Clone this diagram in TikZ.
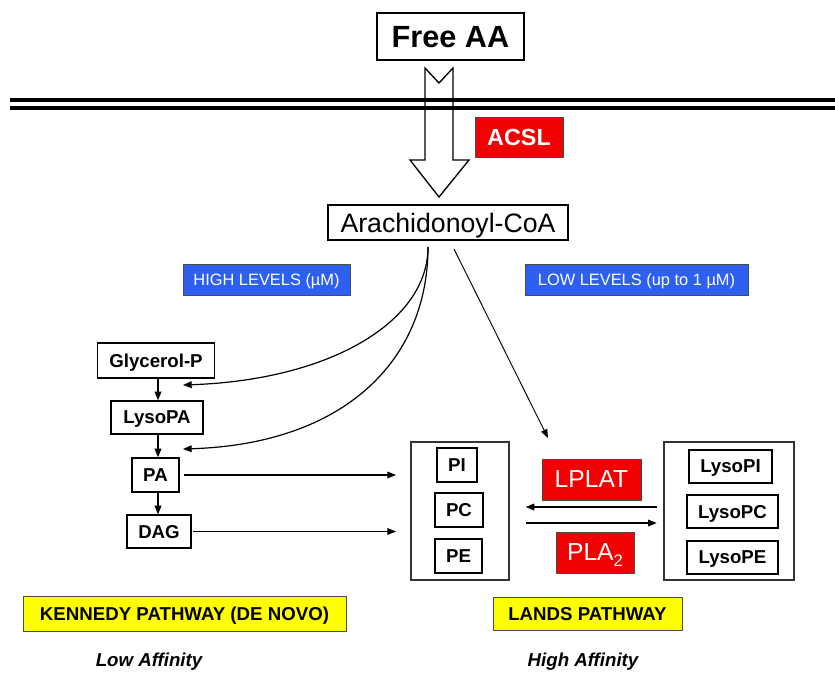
\documentclass[tikz,border=0pt]{standalone}
\usepackage{fontspec}
\setmainfont{Liberation Sans}
\usetikzlibrary{arrows.meta}
\definecolor{redbox}{RGB}{240,0,0}
\definecolor{bluebox}{RGB}{45,95,240}
\definecolor{yellowbox}{RGB}{255,255,0}
\tikzset{
  sz/.style 2 args={minimum width=#1*0.75pt, minimum height=#2*0.75pt, inner sep=0pt,
    text depth=0pt},
  plain/.style={draw=black, line width=0.9pt, fill=white, font=\fontsize{14}{16}\selectfont\bfseries},
  redlab/.style={draw=black!70, line width=0.7pt, fill=redbox, text=white},
  bluelab/.style={draw=black!70, line width=0.7pt, fill=bluebox, text=white, font=\fontsize{12.3}{14}\selectfont},
  yellab/.style={draw=black!70, line width=0.7pt, fill=yellowbox, font=\fontsize{14}{16}\selectfont\bfseries},
  group/.style={draw=black!80, line width=0.9pt},
  conn/.style={line width=0.9pt, -{Triangle[length=6.5pt,width=5pt]}},
  thin/.style={line width=0.7pt, -{Triangle[length=6.5pt,width=5pt]}},
  membrane/.style={line width=2.6pt, black},
  affinity/.style={font=\fontsize{14}{16}\selectfont\bfseries\itshape}
}
\begin{document}
\begin{tikzpicture}[x=0.75pt,y=-0.75pt]
\useasboundingbox (0,0) rectangle (835,672);

% membrane
\draw[membrane] (10,100) -- (835,100);
\draw[membrane] (10,108) -- (835,108);

% hollow transport arrow
\draw[line width=1pt] (425,68) -- (439,83) -- (453,68) -- (453,160) -- (469,160)
  -- (439,197) -- (410,160) -- (425,160) -- cycle;

% top nodes
\node[plain, sz={147}{47}, font=\fontsize{23}{26}\selectfont\bfseries] (freeaa) at (450.5,36.5) {Free AA};
\node[redlab, sz={88}{40}, font=\fontsize{17.5}{20}\selectfont\bfseries] (acsl) at (519,137) {ACSL};
\node[plain, sz={240}{35}, font=\fontsize{20}{23}\selectfont] (acoa) at (448,222.5) {Arachidonoyl-CoA};

\node[bluelab, sz={167}{31}] (high) at (266.5,279.5) {HIGH LEVELS (µM)};
\node[bluelab, sz={223}{31}] (low) at (636.5,279.5) {LOW LEVELS (up to 1 µM)};

% Kennedy pathway
\node[plain, sz={117}{35}] (glyp) at (156,360.5) {Glycerol-P};
\node[plain, sz={92}{33}] (lysopa) at (157,417.5) {LysoPA};
\node[plain, sz={47}{34}] (pa) at (155.5,475) {PA};
\node[plain, sz={64}{33}] (dag) at (159,531.5) {DAG};

\coordinate (col) at (158,0);
\draw[conn] (glyp.south -| col) -- (lysopa.north -| col);
\draw[conn] (lysopa.south -| col) -- (pa.north -| col);
\draw[conn] (pa.south -| col) -- (dag.north -| col);

% Lands pathway groups
\node[group, sz={98}{138}] (leftbox) at (460,511) {};
\node[plain, sz={40}{34}] (pi) at (457,465) {PI};
\node[plain, sz={48}{34}] (pc) at (459,510) {PC};
\node[plain, sz={47}{34}] (pe) at (458.5,556) {PE};

\node[group, sz={130}{138}] (rightbox) at (729,511) {};
\node[plain, sz={83}{33}] (lysopi) at (730.5,466.5) {LysoPI};
\node[plain, sz={91}{33}] (lysopc) at (732.5,511.5) {LysoPC};
\node[plain, sz={91}{33}] (lysope) at (732.5,557.5) {LysoPE};

\node[redlab, sz={99}{41}, font=\fontsize{18.5}{21}\selectfont] (lplat) at (591.5,479.5) {LPLAT};
\node[redlab, sz={78}{41}, font=\fontsize{18.5}{21}\selectfont] (pla) at (595,552.5)
  {PLA\raisebox{-0.4ex}[0pt][0pt]{\fontsize{12.5}{13}\selectfont 2}};

% pathway labels
\node[yellab, sz={323}{35}] (kennedy) at (184.5,613.5) {KENNEDY PATHWAY (DE NOVO)};
\node[yellab, sz={189}{33}] (lands) at (587.5,613.5) {LANDS PATHWAY};
\node[affinity] (lowaff) at (149,662) {Low Affinity};
\node[affinity] (highaff) at (583,662) {High Affinity};

% connectors from Arachidonoyl-CoA
\coordinate (src) at (428,247);
\coordinate (t1) at (183,385);
\coordinate (t2) at (183,449);
\draw[conn] (src) .. controls (428,322) and (330,380) .. (t1);
\draw[conn] (src) .. controls (428,360) and (345,444) .. (t2);

\coordinate (src2) at (454,249);
\coordinate (t3) at (548,438);
\draw[thin] (src2) -- (t3);

\draw[conn] ([xshift=3pt]pa.east) -- (pa.east -| 396,0);
\draw[conn] ([xshift=1pt]dag.east) -- (dag.east -| 396,0);

% LPLAT / PLA2 arrows
\coordinate (ly1) at (0,507);
\coordinate (ly2) at (0,523);
\draw[conn] ([xshift=-5pt]rightbox.west |- ly1) -- ([xshift=12pt]leftbox.east |- ly1);
\draw[conn] ([xshift=12pt]leftbox.east |- ly2) -- ([xshift=-5pt]rightbox.west |- ly2);
\end{tikzpicture}
\end{document}
